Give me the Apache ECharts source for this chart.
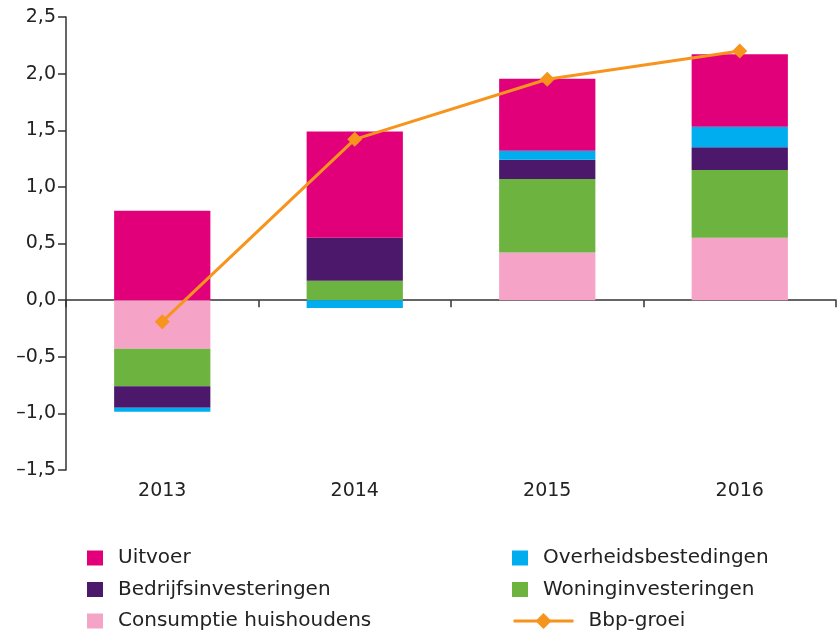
<!DOCTYPE html>
<html>
<head>
<meta charset="utf-8">
<script src="https://cdn.jsdelivr.net/npm/echarts@6/dist/echarts.min.js"></script>
<style>
  html, body { margin: 0; padding: 0; background: #fff; }
  #chart { width: 837px; height: 635px; }
</style>
</head>
<body>
<div id="chart"></div>
<script>
// data
const categories = ['2013', '2014', '2015', '2016'];
const consumptie = [-0.43, 0, 0.42, 0.55];
const woning = [-0.33, 0.17, 0.65, 0.60];
const bedrijfs = [-0.19, 0.38, 0.17, 0.20];
const overheid = [-0.035, -0.07, 0.08, 0.18];
const uitvoer = [0.79, 0.94, 0.635, 0.64];
const bbpGroei = [-0.19, 1.42, 1.95, 2.20];

const FONT = 'DejaVu Sans';
const TEXT = '#222';
const AXIS = '#333';

function fmt(v) {
    // dutch decimal comma, long dash for negatives
    let s = Math.abs(v).toFixed(1).replace('.', ',');
    return v < 0 ? '\u2013' + s : s;
}

function barSeries(name, data, color) {
    return {
        name: name,
        type: 'bar',
        stack: 'total',
        barWidth: '50%',
        itemStyle: { color: color },
        emphasis: { disabled: true },
        data: data
    };
}

const legendText = { fontFamily: FONT, fontSize: 20, color: TEXT, lineHeight: 20, padding: [0, 0, 0, 10] };

const options = {
    animation: false,
    textStyle: { fontFamily: FONT },
    grid: { left: 66, right: 1, top: 17, bottom: 165, outerBoundsMode: 'none', containLabel: false },
    legend: [
        {
            orient: 'vertical', left: 87, top: 548, height: 90, padding: 0,
            itemWidth: 16, itemHeight: 15, itemGap: 11.5,
            textStyle: legendText, selectedMode: false,
            data: [
                { name: 'Uitvoer', icon: 'rect' },
                { name: 'Bedrijfsinvesteringen', icon: 'rect' },
                { name: 'Consumptie huishoudens', icon: 'rect' }
            ]
        },
        {
            orient: 'vertical', left: 512, top: 548, height: 90, padding: 0,
            itemWidth: 16, itemHeight: 15, itemGap: 11.5,
            textStyle: legendText, selectedMode: false,
            data: [
                { name: 'Overheidsbestedingen', icon: 'rect' },
                { name: 'Woninginvesteringen', icon: 'rect' }
            ]
        },
        {
            orient: 'vertical', left: 512, top: 611, padding: 0,
            itemWidth: 60, itemHeight: 20,
            lineStyle: { width: 3 },
            textStyle: legendText, selectedMode: false,
            data: ['Bbp-groei']
        }
    ],
    xAxis: [
        {
            // axis line through zero with ticks between the years
            type: 'category',
            data: categories,
            axisLine: { onZero: true, lineStyle: { color: AXIS, width: 1.5 } },
            axisTick: { show: true, length: 7, lineStyle: { color: AXIS, width: 1.5 } },
            axisLabel: { show: false }
        },
        {
            // year labels below the plot
            type: 'category',
            data: categories,
            position: 'bottom',
            axisLine: { show: false, onZero: false },
            axisTick: { show: false },
            axisLabel: { margin: 12, fontSize: 19, color: TEXT, fontFamily: FONT }
        }
    ],
    yAxis: {
        type: 'value',
        min: -1.5,
        max: 2.5,
        interval: 0.5,
        splitLine: { show: false },
        axisLine: { show: true, lineStyle: { color: AXIS, width: 1.5 } },
        axisTick: { show: true, length: 8, lineStyle: { color: AXIS, width: 1.5 } },
        axisLabel: { margin: 10, fontSize: 19, color: TEXT, fontFamily: FONT, formatter: fmt }
    },
    series: [
        barSeries('Consumptie huishoudens', consumptie, '#f5a3c7'),
        barSeries('Woninginvesteringen', woning, '#6cb33f'),
        barSeries('Bedrijfsinvesteringen', bedrijfs, '#4b186c'),
        barSeries('Overheidsbestedingen', overheid, '#00aeef'),
        barSeries('Uitvoer', uitvoer, '#e2007a'),
        {
            name: 'Bbp-groei',
            type: 'line',
            symbol: 'diamond',
            symbolSize: 15,
            z: 5,
            lineStyle: { color: '#f7941d', width: 3 },
            itemStyle: { color: '#f7941d' },
            emphasis: { disabled: true },
            data: bbpGroei
        }
    ]
};

var myChart = echarts.init(document.getElementById('chart'));
myChart.setOption(options);
</script>
</body>
</html>
